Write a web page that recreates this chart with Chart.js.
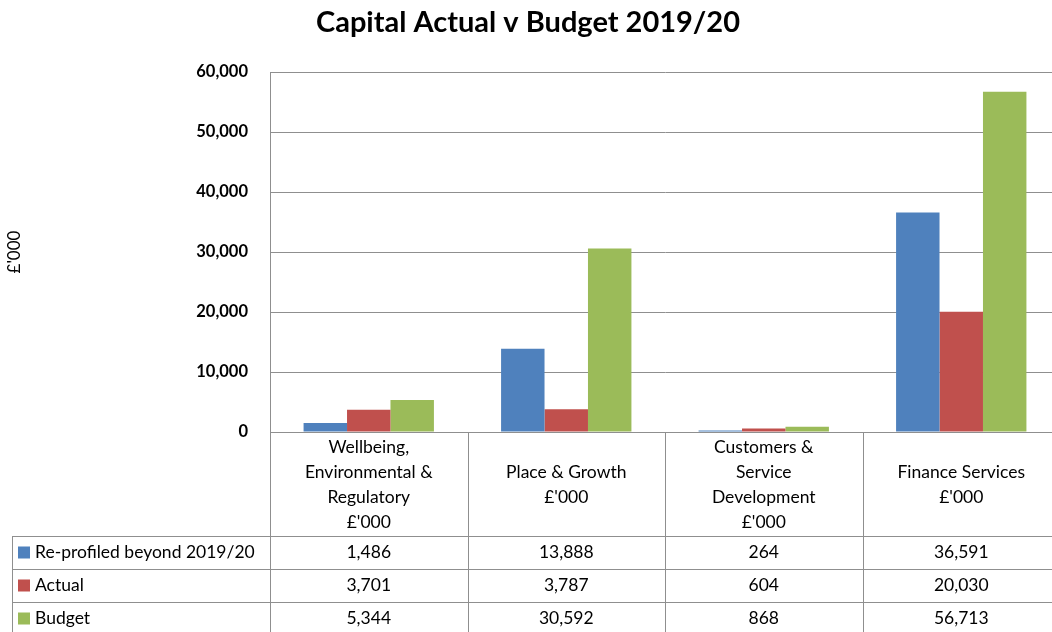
<!DOCTYPE html>
<html>
<head>
<meta charset="utf-8">
<title>Capital Actual v Budget 2019/20</title>
<script src="https://cdn.jsdelivr.net/npm/chart.js@4"></script>
<style>
  html, body { margin: 0; padding: 0; background: #fff; overflow: hidden; }
  #wrap { width: 1060px; height: 632px; }
</style>
</head>
<body>
<div id="wrap"><canvas id="capChart" width="1060" height="632"></canvas></div>
<script>
// Directorates (one table column each, lines as drawn in the header cell)
const categories = [
    ["Wellbeing,", "Environmental &", "Regulatory", "£'000"],
    ["Place & Growth", "£'000"],
    ["Customers &", "Service", "Development", "£'000"],
    ["Finance Services", "£'000"]
];
const seriesNames = ["Re-profiled beyond 2019/20", "Actual", "Budget"];
const reprofiled = [1486, 13888, 264, 36591];
const actual = [3701, 3787, 604, 20030];
const budget = [5344, 30592, 868, 56713];
const yTicks = [0, 10000, 20000, 30000, 40000, 50000, 60000];

const colours = ["#4F81BD", "#C0504D", "#9BBB59"];
const lineGrey = "#8f8f8f";
const fontFamily = "Lato, 'Noto Sans', sans-serif";

function fmt(n) {
    return n.toLocaleString("en-GB");
}

// Title plus the data table underneath the plot
const tablePlugin = {
    id: "dataTable",
    afterDraw(chart) {
        const ctx = chart.ctx;
        const xs = chart.scales.x;
        const area = chart.chartArea;
        const colW = (xs.right - xs.left) / categories.length;
        const top = area.bottom;
        const headH = 105;
        const rowH = 33;
        const tableLeft = 12;
        const bottom = chart.height + 4;

        ctx.save();

        // title
        ctx.fillStyle = "#000";
        ctx.font = "bold 29px " + fontFamily;
        ctx.textAlign = "center";
        ctx.textBaseline = "middle";
        ctx.fillText("Capital Actual v Budget 2019/20", 528, 23);

        ctx.strokeStyle = lineGrey;
        ctx.lineWidth = 1;

        // column separators
        for (let i = 0; i <= categories.length; i++) {
            const x = Math.round(xs.left + i * colW) + 0.5;
            ctx.beginPath();
            ctx.moveTo(x, top);
            ctx.lineTo(x, bottom);
            ctx.stroke();
        }
        // left edge of the series name column
        ctx.beginPath();
        ctx.moveTo(tableLeft + 0.5, top + headH);
        ctx.lineTo(tableLeft + 0.5, bottom);
        ctx.stroke();

        // row lines
        for (let r = 0; r < seriesNames.length; r++) {
            const y = Math.round(top + headH + r * rowH) - 0.5;
            ctx.beginPath();
            ctx.moveTo(tableLeft, y);
            ctx.lineTo(xs.right, y);
            ctx.stroke();
        }

        // header cells
        ctx.fillStyle = "#000";
        ctx.font = "17.5px " + fontFamily;
        ctx.textAlign = "center";
        ctx.textBaseline = "middle";
        const lineH = 25;
        categories.forEach((lines, i) => {
            const cx = xs.getPixelForValue(i);
            const cy = top + headH / 2;
            const startY = cy - (lines.length - 1) * lineH / 2;
            lines.forEach((t, k) => ctx.fillText(t, cx, startY + k * lineH));
        });

        // series rows
        const rows = [reprofiled, actual, budget];
        rows.forEach((vals, r) => {
            const cy = top + headH + r * rowH + rowH / 2 - 1;
            ctx.fillStyle = colours[r];
            ctx.fillRect(tableLeft + 6, cy - 6, 12, 12);
            ctx.fillStyle = "#000";
            ctx.textAlign = "left";
            ctx.fillText(seriesNames[r], tableLeft + 23, cy);
            ctx.textAlign = "center";
            vals.forEach((v, i) => ctx.fillText(fmt(v), xs.getPixelForValue(i), cy));
        });

        ctx.restore();
    }
};

const ctx = document.getElementById("capChart").getContext("2d");
const capChart = new Chart(ctx, {
    type: "bar",
    data: {
        labels: categories.map(c => c.join(" ")),
        datasets: [
            { label: seriesNames[0], data: reprofiled, backgroundColor: colours[0] },
            { label: seriesNames[1], data: actual, backgroundColor: colours[1] },
            { label: seriesNames[2], data: budget, backgroundColor: colours[2] }
        ]
    },
    options: {
        responsive: false,
        devicePixelRatio: 1,
        animation: false,
        layout: { padding: { top: 72, left: 0, right: 0, bottom: 200 } },
        datasets: {
            bar: { categoryPercentage: 0.66, barPercentage: 1.0, borderWidth: 0 }
        },
        plugins: {
            legend: { display: false },
            title: { display: false },
            tooltip: { enabled: false }
        },
        scales: {
            x: {
                afterFit(scale) {
                    scale.height = 0;
                },
                ticks: { display: false },
                grid: { display: false },
                border: { display: true, color: lineGrey, width: 1 }
            },
            y: {
                min: 0,
                max: 60000,
                afterBuildTicks(scale) {
                    scale.ticks = yTicks.map(v => ({ value: v }));
                },
                afterFit(scale) {
                    scale.width = 270;
                },
                ticks: {
                    padding: 22,
                    color: "#000",
                    font: { family: fontFamily, size: 16.5, weight: "bold" },
                    callback: v => fmt(v)
                },
                grid: { color: lineGrey, lineWidth: 1, drawTicks: false },
                border: { display: true, color: lineGrey, width: 1 },
                title: {
                    display: true,
                    text: "£'000",
                    color: "#000",
                    font: { family: fontFamily, size: 17 },
                    padding: { top: 4, bottom: 0 }
                }
            }
        }
    },
    plugins: [tablePlugin]
});
</script>
</body>
</html>
